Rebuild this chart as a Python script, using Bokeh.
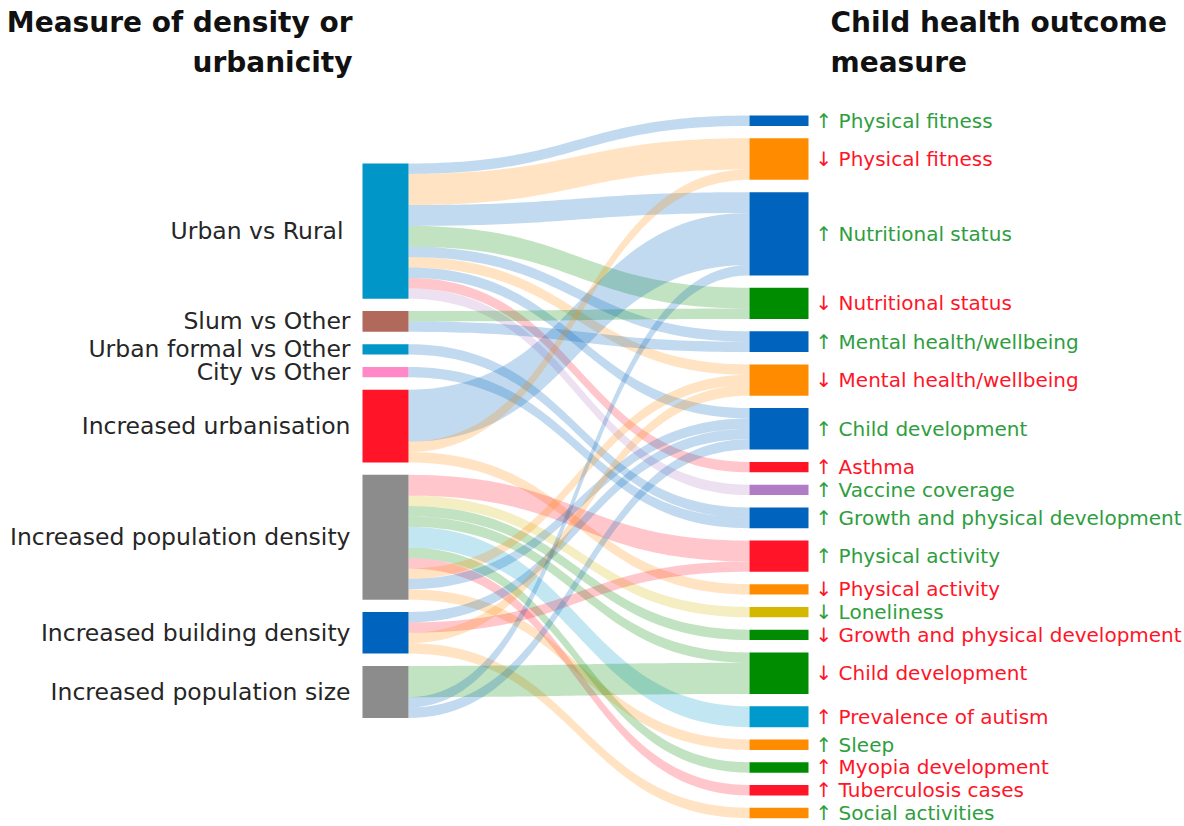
import numpy as np
from bokeh.plotting import figure
from bokeh.models import Range1d
from bokeh.core.properties import value
from bokeh.embed import file_html
from bokeh.resources import INLINE

# ---------------- data ----------------
left_nodes = ["Urban vs Rural", "Slum vs Other", "Urban formal vs Other", "City vs Other",
              "Increased urbanisation", "Increased population density",
              "Increased building density", "Increased population size"]
left_colors = ["#0096C8", "#B0695A", "#0096C8", "#FF88C8", "#FF1428", "#8C8C8C", "#0064BE", "#8C8C8C"]

right_nodes = ["↑ Physical fitness", "↓ Physical fitness", "↑ Nutritional status", "↓ Nutritional status",
               "↑ Mental health/wellbeing", "↓ Mental health/wellbeing", "↑ Child development",
               "↑ Asthma", "↑ Vaccine coverage", "↑ Growth and physical development",
               "↑ Physical activity", "↓ Physical activity", "↓ Loneliness",
               "↓ Growth and physical development", "↓ Child development", "↑ Prevalence of autism",
               "↑ Sleep", "↑ Myopia development", "↑ Tuberculosis cases", "↑ Social activities"]
right_colors = ["#0064BE", "#FF8C00", "#0064BE", "#008C00", "#0064BE", "#FF8C00", "#0064BE",
                "#FF1428", "#B07CC6", "#0064BE", "#FF1428", "#FF8C00", "#D4B800", "#008C00",
                "#008C00", "#0099CC", "#FF8C00", "#008C00", "#FF1428", "#FF8C00"]
right_good = [True, False, True, False, True, False, True, False, True, True,
              True, False, True, False, False, False, True, False, False, True]

link_source = [0, 0, 0, 0, 0, 0, 0, 0, 0,
               1, 1,
               2,
               3,
               4, 4, 4,
               5, 5, 5, 5, 5, 5, 5, 5, 5, 5,
               6, 6, 6, 6,
               7, 7, 7]
link_target = [0, 1, 2, 3, 4, 5, 6, 7, 8,
               3, 4,
               9,
               9,
               2, 1, 11,
               10, 12, 13, 14, 15, 17, 18, 5, 6, 16,
               6, 10, 5, 19,
               14, 2, 6]
link_value = [1, 3, 2, 2, 1, 1, 1, 1, 1,
              1, 1,
              1,
              1,
              5, 1, 1,
              2, 1, 1, 1, 2, 1, 1, 1, 1, 1,
              1, 1, 1, 1,
              3, 1, 1]

title_left = ["Measure of density or", "urbanicity"]
title_right = ["Child health outcome", "measure"]

# ---------------- layout ----------------
UNIT = 10.4
GAP = 12.35
LX0, LX1 = 362, 408
RX0, RX1 = 749, 808
L_START, R_START = 163, 115

nL, nR = len(left_nodes), len(right_nodes)
left_tot = np.zeros(nL)
right_tot = np.zeros(nR)
for s, t, v in zip(link_source, link_target, link_value):
    left_tot[s] += v
    right_tot[t] += v

def stack(totals, start):
    tops, y = [], start
    for tval in totals:
        tops.append(y)
        y += tval * UNIT + GAP
    return np.array(tops)

left_top = stack(left_tot, L_START)
right_top = stack(right_tot, R_START)

src_off = left_top.copy()
link_sy = []
for s, v in zip(link_source, link_value):
    link_sy.append(src_off[s])
    src_off[s] += v * UNIT
order = sorted(range(len(link_source)), key=lambda i: (link_source[i], i))
tgt_off = right_top.copy()
link_ty = [0.0] * len(link_source)
for i in order:
    t = link_target[i]
    link_ty[i] = tgt_off[t]
    tgt_off[t] += link_value[i] * UNIT

tt = np.linspace(0, 1, 60)
def bez(p0, p1, p2, p3):
    return ((1 - tt) ** 3) * p0 + 3 * ((1 - tt) ** 2) * tt * p1 + 3 * (1 - tt) * tt ** 2 * p2 + tt ** 3 * p3

xm = (LX1 + RX0) / 2
xs_l, ys_l, col_l = [], [], []
for i in range(len(link_source)):
    h = link_value[i] * UNIT
    y0, y1 = link_sy[i], link_ty[i]
    xtop = bez(LX1, xm, xm, RX0)
    ytop = bez(y0, y0, y1, y1)
    ybot = bez(y0 + h, y0 + h, y1 + h, y1 + h)
    xs_l.append(np.concatenate([xtop, xtop[::-1]]))
    ys_l.append(np.concatenate([ytop, ybot[::-1]]))
    col_l.append(right_colors[link_target[i]])

W, H = 1184, 826
p = figure(width=W, height=H, output_backend="svg", toolbar_location=None,
           x_range=Range1d(0, W), y_range=Range1d(H, 0),
           min_border=0, outline_line_color=None)
p.axis.visible = False
p.grid.visible = False
p.background_fill_color = "white"
p.border_fill_color = "white"

p.patches(xs_l, ys_l, fill_color=col_l, fill_alpha=0.24, line_color=None)

p.quad(left=LX0, right=LX1, top=left_top, bottom=left_top + left_tot * UNIT,
       fill_color=left_colors, line_color=None)
p.quad(left=RX0, right=RX1, top=right_top, bottom=right_top + right_tot * UNIT,
       fill_color=right_colors, line_color=None)

FONT = "DejaVu Sans"
label_x = [343] + [350] * (nL - 1)
p.text(x=label_x, y=list(left_top + left_tot * UNIT / 2), text=left_nodes,
       text_align="right", text_baseline="middle", text_font=value(FONT),
       text_font_size="23.5px", text_color="#262626")

rc = ["#2E9E3E" if g else "#FF1428" for g in right_good]
p.text(x=[815] * nR, y=list(right_top + right_tot * UNIT / 2), text=right_nodes,
       text_align="left", text_baseline="middle", text_font=value(FONT),
       text_font_size="20px", text_color=rc)

p.text(x=[352, 352], y=[22, 62], text=title_left, text_align="right", text_baseline="middle",
       text_font=value(FONT), text_font_size="28px", text_font_style="bold", text_color="#111111")
p.text(x=[830, 830], y=[22, 62], text=title_right, text_align="left", text_baseline="middle",
       text_font=value(FONT), text_font_size="28px", text_font_style="bold", text_color="#111111")

open("out.html", "w").write(file_html(p, INLINE))
